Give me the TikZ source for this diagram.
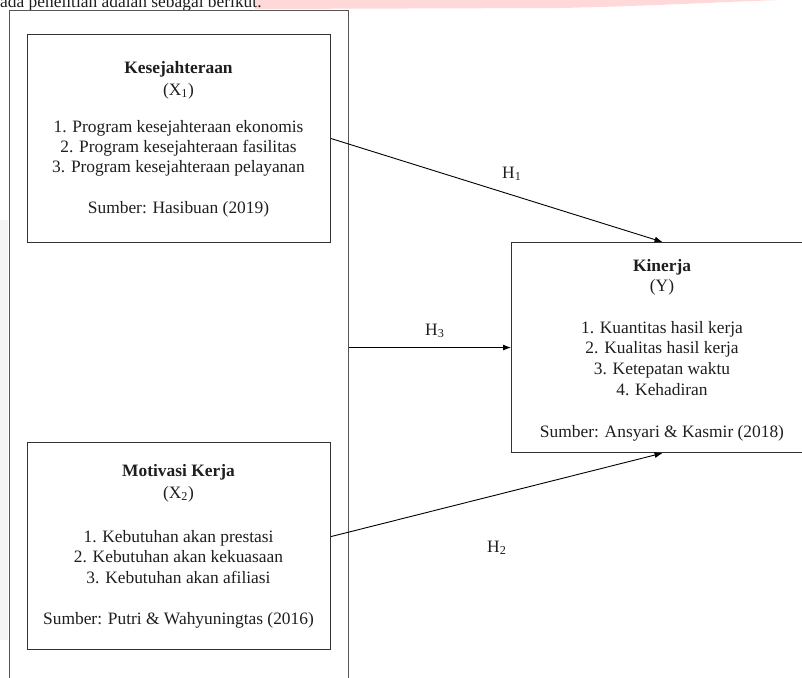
\documentclass[tikz,border=0pt]{standalone}
\usepackage{fontspec}
\setmainfont{Liberation Serif}
\usetikzlibrary{arrows.meta,calc}
\definecolor{boxline}{HTML}{333333}
\definecolor{outerline}{HTML}{555555}
\definecolor{wmpink}{HTML}{FFD9D9}
\definecolor{wmgray}{HTML}{F4F4F4}
\definecolor{txt}{HTML}{1E1E1E}
\begin{document}
\begin{tikzpicture}[x=1pt,y=-1pt,
  every node/.style={font=\fontsize{17.4}{20.5}\selectfont, text=txt, inner sep=0pt},
  varbox/.style={draw=boxline, line width=1.1pt, rectangle, anchor=north west},
  outerbox/.style={draw=outerline, line width=1.2pt, rectangle, anchor=north west},
  ln/.style={anchor=base},
  arr/.style={draw=black, line width=0.9pt, -{Latex[length=8pt,width=6pt]}},
  hlabel/.style={anchor=base west}
]
\useasboundingbox (0,0) rectangle (802,677);
\clip (0,0) rectangle (802,677);
% watermark remnants
\fill[wmpink] (255,0) -- (255,9) -- (560,8) .. controls (650,6) and (720,2) .. (780,0) -- cycle;
\fill[wmgray] (0,220) rectangle (8,640);
\node[anchor=base west] (intro) at (0,7.5) {ada penelitian adalah sebagai berikut.};

% boxes
\node[outerbox, minimum width=339pt, minimum height=700pt] (outer) at (9,10) {};
\node[varbox, minimum width=303pt, minimum height=208pt] (x1) at (27,34) {};
\node[varbox, minimum width=303pt, minimum height=207pt] (x2) at (27,442) {};
\node[varbox, minimum width=302pt, minimum height=210pt] (y) at (511,242) {};

% X1 text
\node[ln] (x1a) at (178.5,73) {\textbf{Kesejahteraan}};
\node[ln] (x1b) at (178.5,95) {(X\textsubscript{1})};
\node[ln] (x1c) at (178.5,132) {1. Program kesejahteraan ekonomis};
\node[ln] (x1d) at (178.5,152) {2. Program kesejahteraan fasilitas};
\node[ln] (x1e) at (178.5,172) {3. Program kesejahteraan pelayanan};
\node[ln] (x1f) at (178.5,213) {Sumber: Hasibuan (2019)};

% X2 text
\node[ln] (x2a) at (178.5,476) {\textbf{Motivasi Kerja}};
\node[ln] (x2b) at (178.5,498) {(X\textsubscript{2})};
\node[ln] (x2c) at (178.5,542) {1. Kebutuhan akan prestasi};
\node[ln] (x2d) at (178.5,562) {2. Kebutuhan akan kekuasaan};
\node[ln] (x2e) at (178.5,583) {3. Kebutuhan akan afiliasi};
\node[ln] (x2f) at (178.5,624) {Sumber: Putri \& Wahyuningtas (2016)};

% Y text
\node[ln] (ya) at (662,271) {\textbf{Kinerja}};
\node[ln] (yb) at (662,291) {(Y)};
\node[ln] (yc) at (662,333) {1. Kuantitas hasil kerja};
\node[ln] (yd) at (662,353) {2. Kualitas hasil kerja};
\node[ln] (ye) at (662,374) {3. Ketepatan waktu};
\node[ln] (yf) at (662,395) {4. Kehadiran};
\node[ln] (yg) at (662,437) {Sumber: Ansyari \& Kasmir (2018)};

% connectors
\coordinate (h3s) at (outer.east |- y.west);
\draw[arr] (x1.east) -- (y.north);
\draw[arr] (h3s) -- (y.west);
\draw[arr] ($(x2.east)+(0,-9.5)$) -- (y.south);

% hypothesis labels
\node[hlabel] (h1) at (502,178) {H\textsubscript{1}};
\node[hlabel] (h3) at (425,335) {H\textsubscript{3}};
\node[hlabel] (h2) at (487,552) {H\textsubscript{2}};
\end{tikzpicture}
\end{document}
